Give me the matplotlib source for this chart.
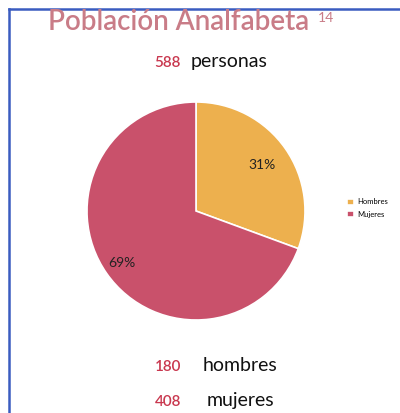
import matplotlib
matplotlib.use("Agg")
import matplotlib.pyplot as plt
from matplotlib.lines import Line2D
import numpy as np

plt.rcParams['font.family'] = ['Lato', 'DejaVu Sans']

categories = ["Hombres", "Mujeres"]
values = [180, 408]
total = 588
colors = ["#EDB04E", "#C9516B"]

W, H = 400, 413
fig = plt.figure(figsize=(W/100, H/100), dpi=100)
fig.patch.set_facecolor("white")

def fx(x): return x / W
def fy(y): return 1 - y / H

# border
fig.add_artist(Line2D([fx(8.5), fx(8.5)], [fy(8.5), 0], transform=fig.transFigure, color="#3A5CC0", lw=1.8))
fig.add_artist(Line2D([fx(8.5), 1], [fy(8.5), fy(8.5)], transform=fig.transFigure, color="#3A5CC0", lw=1.8))

# title
fig.text(fx(48), fy(30), "Población Analfabeta", color="#C97C87", fontsize=20, ha="left", va="baseline", fontweight="semibold")
fig.text(fx(318), fy(22), "14", color="#C97C87", fontsize=10, ha="left", va="baseline")

num_color = "#C9384F"
fig.text(fx(181), fy(67), str(total), color=num_color, fontsize=11, ha="right", va="baseline", fontweight="semibold")
fig.text(fx(191), fy(67), "personas", color="#111111", fontsize=14, ha="left", va="baseline")

fig.text(fx(181), fy(371), str(values[0]), color=num_color, fontsize=11, ha="right", va="baseline", fontweight="semibold")
fig.text(fx(203), fy(371), "hombres", color="#111111", fontsize=14, ha="left", va="baseline")
fig.text(fx(181), fy(406), str(values[1]), color=num_color, fontsize=11, ha="right", va="baseline", fontweight="semibold")
fig.text(fx(207), fy(406), "mujeres", color="#111111", fontsize=14, ha="left", va="baseline")

# pie
cx, cy, r = 196, 211, 109
ax = fig.add_axes([fx(cx - r), fy(cy + r), 2*r/W, 2*r/H])
wedges, _ = ax.pie(values, colors=colors, startangle=90, counterclock=False,
                   wedgeprops=dict(edgecolor="white", linewidth=1.2))
ax.set_xlim(-1, 1)
ax.set_ylim(-1, 1)
ax.set_aspect("equal")
ax.axis("off")

dists = [0.74, 0.83]
for w, v, d in zip(wedges, values, dists):
    ang = np.deg2rad((w.theta1 + w.theta2) / 2)
    ax.text(d*np.cos(ang), d*np.sin(ang), f"{round(100*v/total):d}%",
            ha="center", va="center", fontsize=10, color="#222222")

fig.legend(wedges, categories, loc="center left", bbox_to_anchor=(fx(340), fy(208)),
           frameon=False, fontsize=5.5, handlelength=0.9, handleheight=0.9,
           handletextpad=0.4, labelspacing=0.7)

fig.savefig("out.png", dpi=100)
